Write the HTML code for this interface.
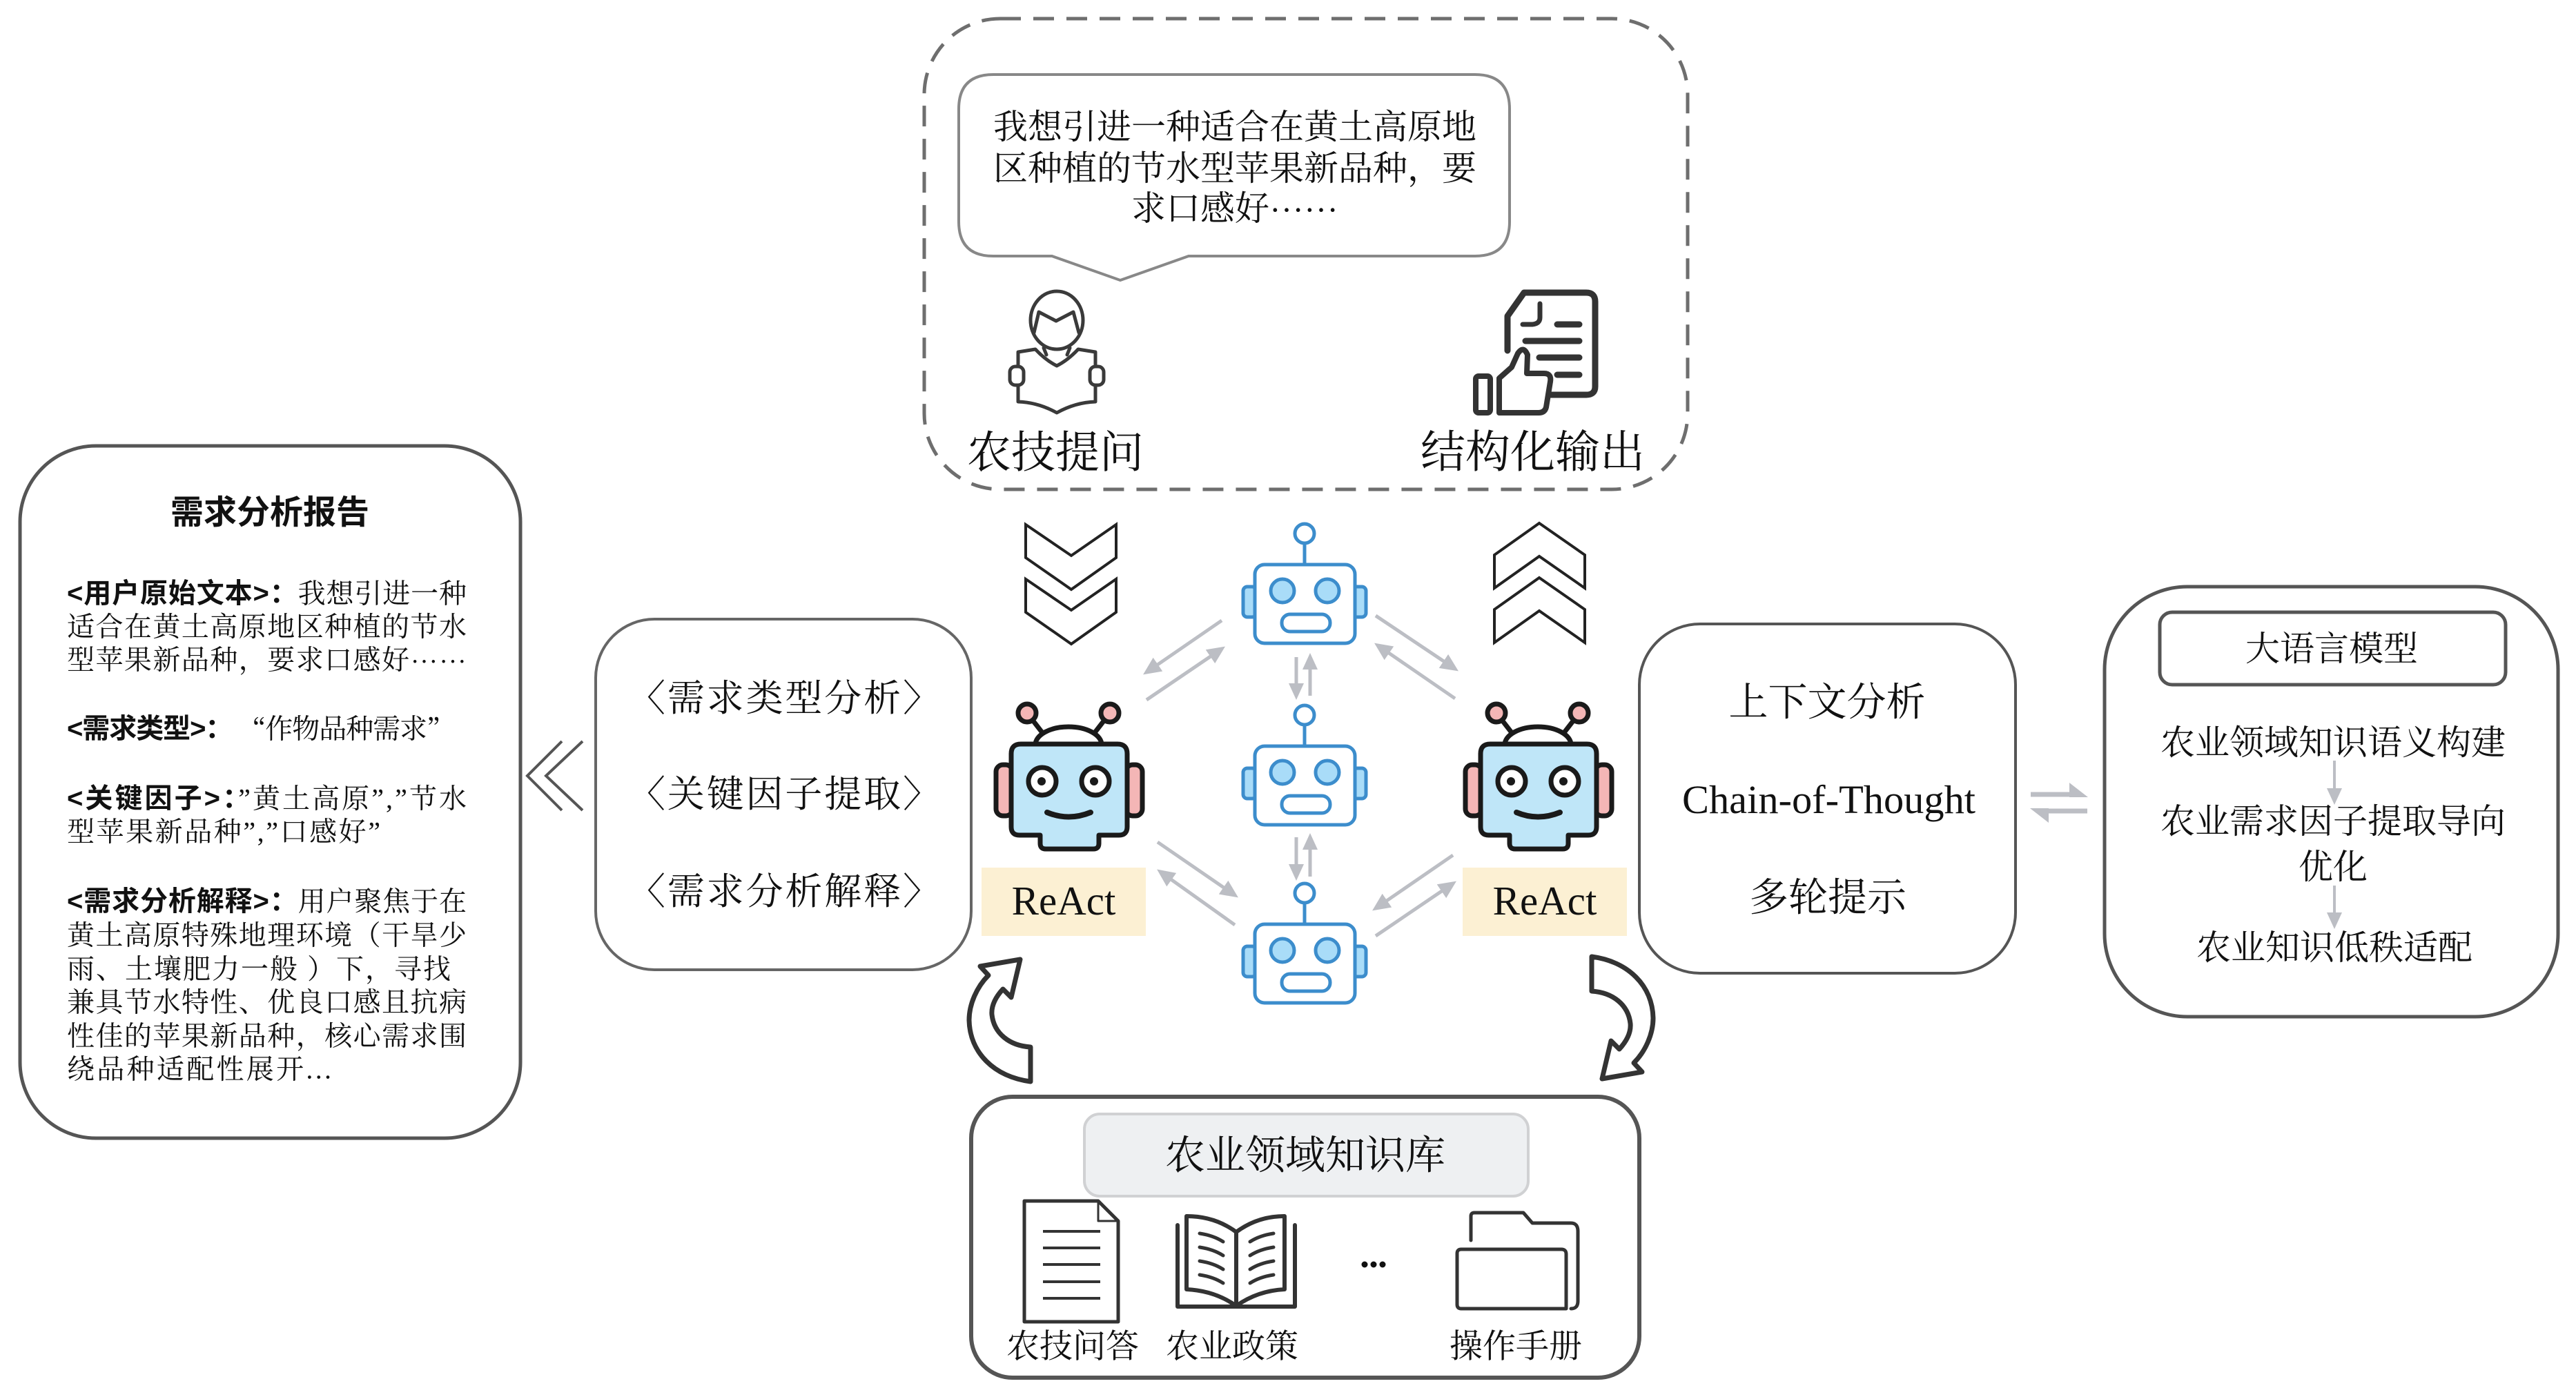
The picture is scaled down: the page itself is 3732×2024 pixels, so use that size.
<!DOCTYPE html>
<html><head><meta charset="utf-8"><style>
html,body{margin:0;padding:0;background:#fff;}
body{width:3732px;height:2024px;overflow:hidden;}
svg{display:block;}
.s{font-family:"Liberation Serif","Noto Serif CJK SC",serif;fill:#111;}
.h{font-family:"Liberation Sans","Noto Sans CJK SC",sans-serif;font-weight:bold;fill:#111;}
.c{font-family:"Noto Serif CJK SC",serif;}
</style></head><body>
<svg width="3732" height="2024" viewBox="0 0 3732 2024" xmlns="http://www.w3.org/2000/svg">
<defs>
<marker id="ah" markerUnits="userSpaceOnUse" markerWidth="30" markerHeight="30" refX="20" refY="12" orient="auto"><path d="M0,0 L26,12 L0,24 Z" fill="#bcbec4"/></marker>
<marker id="ah2" markerUnits="userSpaceOnUse" markerWidth="30" markerHeight="30" refX="18" refY="11" orient="auto"><path d="M0,0 L24,11 L0,22 Z" fill="#bcbec4"/></marker>
</defs>

<!-- Top dashed container -->
<rect x="1339" y="27" width="1106" height="682" rx="110" fill="none" stroke="#6e6e6e" stroke-width="5" stroke-dasharray="30 18"/>
<!-- Speech bubble -->
<path d="M1439,108 H2137 Q2187,108 2187,158 V321 Q2187,371 2137,371 H1722 L1623,406 L1524,371 H1439 Q1389,371 1389,321 V158 Q1389,108 1439,108 Z" fill="#fff" stroke="#888" stroke-width="4"/>
<g class="s" font-size="50" text-anchor="middle" dominant-baseline="central">
<text x="1789" y="184">我想引进一种适合在黄土高原地</text>
<text x="1789" y="244">区种植的节水型苹果新品种，要</text>
<text x="1789" y="302">求口感好<tspan class="c">……</tspan></text>
</g>
<!-- person reading icon -->
<g fill="#fff" stroke="#3a3a3a" stroke-width="5" stroke-linejoin="round" stroke-linecap="round">
<ellipse cx="1531" cy="464" rx="38" ry="42"/>
<path d="M1498,482 L1505,452 L1530,465 L1555,452 L1563,482" fill="none"/>
<path d="M1512,504 L1516,514 M1550,504 L1546,514" fill="none"/>
<path d="M1475,510 L1500,506 Q1515,522 1531,530 Q1547,522 1562,506 L1587,510 V582 Q1558,583 1531,598 Q1504,583 1475,582 Z"/>
<rect x="1463" y="531" width="20" height="27" rx="8"/>
<rect x="1579" y="531" width="20" height="27" rx="8"/>
</g>
<!-- doc with thumb icon -->
<g fill="none" stroke="#333" stroke-width="9" stroke-linejoin="round" stroke-linecap="round">
<path d="M2208,424 L2298,424 Q2311,424 2311,437 L2311,560 Q2311,572 2298,572 L2240,572"/>
<path d="M2184,508 L2184,458 L2208,424"/>
<path d="M2231,440 V460 Q2231,469 2220,470 L2206,470" stroke-width="7"/>
<path d="M2256,470 H2288 M2210,494 H2288 M2230,518 H2288 M2256,543 H2288"/>
<path d="M2172,598 V548 L2190,532 L2199,512 Q2207,500 2213,514 L2212,541 H2237 Q2248,541 2246,553 L2240,590 Q2238,598 2229,598 Z" fill="#fff" stroke-width="8"/>
<rect x="2138" y="545" width="21" height="53" rx="4" stroke-width="8"/>
</g>
<text class="s" x="1401" y="656" font-size="64" dominant-baseline="central">农技提问</text>
<text class="s" x="2058" y="656" font-size="65" dominant-baseline="central">结构化输出</text>

<!-- Left report box -->
<rect x="29" y="646" width="725" height="1003" rx="110" fill="#fff" stroke="#555" stroke-width="5"/>
<text class="h" x="391" y="743" font-size="48" text-anchor="middle" dominant-baseline="central">需求分析报告</text>
<g class="s" font-size="40" dominant-baseline="central">
<text x="97" y="860" textLength="579" lengthAdjust="spacing"><tspan class="h">&lt;用户原始文本&gt;：</tspan>我想引进一种</text>
<text x="97" y="908" textLength="579" lengthAdjust="spacing">适合在黄土高原地区种植的节水</text>
<text x="97" y="956" textLength="579" lengthAdjust="spacing">型苹果新品种，要求口感好<tspan class="c">……</tspan></text>
<text x="97" y="1056" textLength="561" lengthAdjust="spacing"><tspan class="h">&lt;需求类型&gt;：</tspan> <tspan class="c">“</tspan>作物品种需求<tspan class="c">”</tspan></text>
<text x="97" y="1157" textLength="579" lengthAdjust="spacing"><tspan class="h">&lt;关键因子&gt;：</tspan>”黄土高原”,”节水</text>
<text x="97" y="1205" textLength="454" lengthAdjust="spacing">型苹果新品种”,”口感好”</text>
<text x="97" y="1306" textLength="579" lengthAdjust="spacing"><tspan class="h">&lt;需求分析解释&gt;：</tspan>用户聚焦于在</text>
<text x="97" y="1355" textLength="579" lengthAdjust="spacing">黄土高原特殊地理环境（干旱少</text>
<text x="97" y="1404" textLength="556" lengthAdjust="spacing">雨、土壤肥力一般 ）下，寻找</text>
<text x="97" y="1452" textLength="579" lengthAdjust="spacing">兼具节水特性、优良口感且抗病</text>
<text x="97" y="1501" textLength="579" lengthAdjust="spacing">性佳的苹果新品种，核心需求围</text>
<text x="97" y="1549" textLength="383" lengthAdjust="spacing">绕品种适配性展开...</text>
</g>

<!-- double chevron left -->
<g fill="none" stroke="#555" stroke-width="4">
<polyline points="814,1074 764,1124 814,1174"/>
<polyline points="844,1074 791,1124 844,1174"/>
</g>

<!-- Middle-left box -->
<rect x="863" y="897" width="544" height="508" rx="85" fill="#fff" stroke="#666" stroke-width="4"/>
<g class="s" font-size="54" dominant-baseline="central">
<text x="910" y="1012" textLength="452" lengthAdjust="spacing">〈需求类型分析〉</text>
<text x="910" y="1151" textLength="452" lengthAdjust="spacing">〈关键因子提取〉</text>
<text x="910" y="1292" textLength="452" lengthAdjust="spacing">〈需求分析解释〉</text>
</g>

<!-- chevrons -->
<g fill="#fff" stroke="#222" stroke-width="4" stroke-linejoin="miter">
<polygon points="1486,760 1552,805 1617,760 1617,808 1552,854 1486,808"/>
<polygon points="1486,839 1552,884 1617,839 1617,887 1552,933 1486,887"/>
<polygon points="2230,758 2296,804 2296,852 2230,806 2165,852 2165,804"/>
<polygon points="2230,837 2296,883 2296,931 2230,885 2165,931 2165,883"/>
</g>

<!-- gray arrows -->
<g stroke="#bcbec4" stroke-width="5" fill="none">
<line x1="1878" y1="952" x2="1878" y2="1008" marker-end="url(#ah2)"/>
<line x1="1898" y1="1008" x2="1898" y2="952" marker-end="url(#ah2)"/>
<line x1="1878" y1="1213" x2="1878" y2="1270" marker-end="url(#ah2)"/>
<line x1="1898" y1="1270" x2="1898" y2="1213" marker-end="url(#ah2)"/>
<line x1="1770" y1="899" x2="1661" y2="974" marker-end="url(#ah)"/>
<line x1="1661" y1="1014" x2="1770" y2="940" marker-end="url(#ah)"/>
<line x1="1993" y1="892" x2="2108" y2="969" marker-end="url(#ah)"/>
<line x1="2108" y1="1012" x2="1996" y2="935" marker-end="url(#ah)"/>
<line x1="1677" y1="1220" x2="1789" y2="1297" marker-end="url(#ah)"/>
<line x1="1789" y1="1340" x2="1681" y2="1263" marker-end="url(#ah)"/>
<line x1="2105" y1="1239" x2="1993" y2="1316" marker-end="url(#ah)"/>
<line x1="1993" y1="1356" x2="2105" y2="1280" marker-end="url(#ah)"/>
</g>

<!-- blue robots -->
<g stroke="#3c8dcc" stroke-width="5" fill="#fff">
<g>
<line x1="1890" y1="787" x2="1890" y2="818"/>
<circle cx="1890" cy="773" r="14"/>
<rect x="1801" y="850" width="19" height="44" rx="6" fill="#a9dcf8"/>
<rect x="1960" y="850" width="19" height="44" rx="6" fill="#a9dcf8"/>
<rect x="1818" y="818" width="145" height="114" rx="14"/>
<circle cx="1858" cy="856" r="17" fill="#a9dcf8"/>
<circle cx="1923" cy="856" r="17" fill="#a9dcf8"/>
<rect x="1857" y="890" width="70" height="25" rx="12"/>
</g>
<g transform="translate(0,263)">
<line x1="1890" y1="787" x2="1890" y2="818"/>
<circle cx="1890" cy="773" r="14"/>
<rect x="1801" y="850" width="19" height="44" rx="6" fill="#a9dcf8"/>
<rect x="1960" y="850" width="19" height="44" rx="6" fill="#a9dcf8"/>
<rect x="1818" y="818" width="145" height="114" rx="14"/>
<circle cx="1858" cy="856" r="17" fill="#a9dcf8"/>
<circle cx="1923" cy="856" r="17" fill="#a9dcf8"/>
<rect x="1857" y="890" width="70" height="25" rx="12"/>
</g>
<g transform="translate(0,521)">
<line x1="1890" y1="787" x2="1890" y2="818"/>
<circle cx="1890" cy="773" r="14"/>
<rect x="1801" y="850" width="19" height="44" rx="6" fill="#a9dcf8"/>
<rect x="1960" y="850" width="19" height="44" rx="6" fill="#a9dcf8"/>
<rect x="1818" y="818" width="145" height="114" rx="14"/>
<circle cx="1858" cy="856" r="17" fill="#a9dcf8"/>
<circle cx="1923" cy="856" r="17" fill="#a9dcf8"/>
<rect x="1857" y="890" width="70" height="25" rx="12"/>
</g>
</g>

<!-- ReAct robots -->
<g stroke="#1a1a1a" stroke-width="7" stroke-linecap="round" stroke-linejoin="round">
<g>
<line x1="1488" y1="1033" x2="1512" y2="1064"/>
<line x1="1608" y1="1033" x2="1584" y2="1064"/>
<path d="M1500,1079 A48,26 0 0 1 1596,1079" fill="#fff"/>
<circle cx="1488" cy="1033" r="13" fill="#f4b6b6"/>
<circle cx="1608" cy="1033" r="13" fill="#f4b6b6"/>
<rect x="1443" y="1108" width="24" height="74" rx="10" fill="#f4b6b6"/>
<rect x="1631" y="1108" width="24" height="74" rx="10" fill="#f4b6b6"/>
<path d="M1479,1078 H1619 Q1633,1078 1633,1092 V1198 Q1633,1210 1621,1210 H1592 V1222 Q1592,1230 1584,1230 H1515 Q1507,1230 1507,1222 V1210 H1477 Q1465,1210 1465,1198 V1092 Q1465,1078 1479,1078 Z" fill="#bfe6f8"/>
<circle cx="1510" cy="1132" r="20" fill="#fff"/>
<circle cx="1587" cy="1132" r="20" fill="#fff"/>
<circle cx="1509" cy="1132" r="6" fill="#1a1a1a" stroke="none"/>
<circle cx="1585" cy="1132" r="6" fill="#1a1a1a" stroke="none"/>
<path d="M1517,1177 Q1548,1190 1580,1177" fill="none" stroke-width="8"/>
</g>
<g transform="translate(680,0)">
<line x1="1488" y1="1033" x2="1512" y2="1064"/>
<line x1="1608" y1="1033" x2="1584" y2="1064"/>
<path d="M1500,1079 A48,26 0 0 1 1596,1079" fill="#fff"/>
<circle cx="1488" cy="1033" r="13" fill="#f4b6b6"/>
<circle cx="1608" cy="1033" r="13" fill="#f4b6b6"/>
<rect x="1443" y="1108" width="24" height="74" rx="10" fill="#f4b6b6"/>
<rect x="1631" y="1108" width="24" height="74" rx="10" fill="#f4b6b6"/>
<path d="M1479,1078 H1619 Q1633,1078 1633,1092 V1198 Q1633,1210 1621,1210 H1592 V1222 Q1592,1230 1584,1230 H1515 Q1507,1230 1507,1222 V1210 H1477 Q1465,1210 1465,1198 V1092 Q1465,1078 1479,1078 Z" fill="#bfe6f8"/>
<circle cx="1510" cy="1132" r="20" fill="#fff"/>
<circle cx="1587" cy="1132" r="20" fill="#fff"/>
<circle cx="1509" cy="1132" r="6" fill="#1a1a1a" stroke="none"/>
<circle cx="1585" cy="1132" r="6" fill="#1a1a1a" stroke="none"/>
<path d="M1517,1177 Q1548,1190 1580,1177" fill="none" stroke-width="8"/>
</g>
</g>
<rect x="1422" y="1257" width="238" height="99" fill="#fcf0d3"/>
<rect x="2119" y="1257" width="238" height="99" fill="#fcf0d3"/>
<text class="s" x="1541" y="1325" font-size="59" text-anchor="middle">ReAct</text>
<text class="s" x="2238" y="1325" font-size="59" text-anchor="middle">ReAct</text>

<!-- curved arrows -->
<g fill="#fff" stroke="#333" stroke-width="7" stroke-linejoin="round">
<path d="M1493,1567 C1440,1560 1405,1525 1404,1478 C1404,1455 1415,1430 1432,1413 L1420,1400 L1478,1390 L1465,1445 L1453,1433 C1442,1445 1436,1458 1437,1470 C1440,1497 1462,1515 1493,1517 Z"/>
<path transform="rotate(180 1899.5 1476.5)" d="M1493,1567 C1440,1560 1405,1525 1404,1478 C1404,1455 1415,1430 1432,1413 L1420,1400 L1478,1390 L1465,1445 L1453,1433 C1442,1445 1436,1458 1437,1470 C1440,1497 1462,1515 1493,1517 Z"/>
</g>

<!-- Right middle box -->
<rect x="2375" y="904" width="545" height="506" rx="88" fill="#fff" stroke="#555" stroke-width="4"/>
<text class="s" x="2647" y="1018" font-size="57" text-anchor="middle" dominant-baseline="central">上下文分析</text>
<text class="s" x="2437" y="1178" font-size="58" textLength="425" lengthAdjust="spacingAndGlyphs">Chain-of-Thought</text>
<text class="s" x="2648" y="1301" font-size="57" text-anchor="middle" dominant-baseline="central">多轮提示</text>

<!-- harpoon arrows -->
<g fill="#bcbec4" stroke="#bcbec4">
<line x1="2942" y1="1151" x2="3010" y2="1151" stroke-width="7"/>
<polygon points="3025,1155 2998,1134 2998,1155" stroke="none"/>
<line x1="2956" y1="1175" x2="3024" y2="1175" stroke-width="7"/>
<polygon points="2941,1171 2968,1192 2968,1171" stroke="none"/>
</g>

<!-- LLM box -->
<rect x="3049" y="850" width="657" height="623" rx="120" fill="#fff" stroke="#555" stroke-width="5"/>
<rect x="3129" y="887" width="501" height="105" rx="18" fill="#fff" stroke="#555" stroke-width="5"/>
<g class="s" font-size="50" text-anchor="middle" dominant-baseline="central">
<text x="3378" y="940">大语言模型</text>
<text x="3380" y="1076">农业领域知识语义构建</text>
<text x="3380" y="1190">农业需求因子提取导向</text>
<text x="3380" y="1256">优化</text>
<text x="3382" y="1373">农业知识低秩适配</text>
</g>
<g stroke="#bcbec4" stroke-width="4">
<line x1="3382" y1="1102" x2="3382" y2="1160" marker-end="url(#ah2)"/>
<line x1="3382" y1="1283" x2="3382" y2="1340" marker-end="url(#ah2)"/>
</g>

<!-- Knowledge base box -->
<rect x="1407" y="1589" width="968" height="407" rx="60" fill="#fff" stroke="#555" stroke-width="6"/>
<rect x="1571" y="1614" width="643" height="119" rx="22" fill="#eef0f2" stroke="#d0d1d3" stroke-width="4"/>
<text class="s" x="1891" y="1674" font-size="58" text-anchor="middle" dominant-baseline="central">农业领域知识库</text>
<!-- doc icon -->
<g fill="#fff" stroke="#333" stroke-width="5" stroke-linejoin="round">
<path d="M1484,1740 H1591 L1620,1769 V1915 H1484 Z"/>
<path d="M1591,1740 V1769 H1620" fill="none" stroke-width="3"/>
<path d="M1511,1784 H1594 M1511,1808 H1594 M1511,1832 H1594 M1511,1857 H1594 M1511,1881 H1594" stroke-width="4"/>
</g>
<!-- book icon -->
<g fill="#fff" stroke="#333" stroke-width="6" stroke-linejoin="round" stroke-linecap="round">
<path d="M1706,1775 V1893 H1876 V1775"/>
<path d="M1791,1785 Q1760,1762 1719,1762 V1868 Q1760,1870 1791,1892 Z"/>
<path d="M1791,1785 Q1822,1762 1861,1762 V1868 Q1822,1870 1791,1892 Z"/>
<path d="M1738,1787 Q1758,1790 1772,1799 M1738,1807 Q1758,1810 1772,1819 M1738,1827 Q1758,1830 1772,1839 M1738,1847 Q1758,1850 1772,1859" fill="none" stroke-width="5"/>
<path d="M1845,1787 Q1825,1790 1811,1799 M1845,1807 Q1825,1810 1811,1819 M1845,1827 Q1825,1830 1811,1839 M1845,1847 Q1825,1850 1811,1859" fill="none" stroke-width="5"/>
</g>
<circle cx="1977" cy="1832" r="4.5" fill="#111"/>
<circle cx="1990" cy="1832" r="4.5" fill="#111"/>
<circle cx="2003" cy="1832" r="4.5" fill="#111"/>
<!-- folder icon -->
<g fill="#fff" stroke="#333" stroke-width="5" stroke-linejoin="round" stroke-linecap="round">
<path d="M2131,1797 V1762 Q2131,1757 2136,1757 H2207 L2220,1772 H2276 Q2286,1772 2286,1784 V1885 Q2286,1896 2276,1896"/>
<path d="M2117,1810 H2262 Q2269,1810 2269,1817 V1896 H2117 Q2111,1896 2111,1890 V1816 Q2111,1810 2117,1810 Z"/>
</g>
<g class="s" font-size="48" text-anchor="middle" dominant-baseline="central">
<text x="1554" y="1951">农技问答</text>
<text x="1785" y="1951">农业政策</text>
<text x="2196" y="1951">操作手册</text>
</g>
</svg>
</body></html>
